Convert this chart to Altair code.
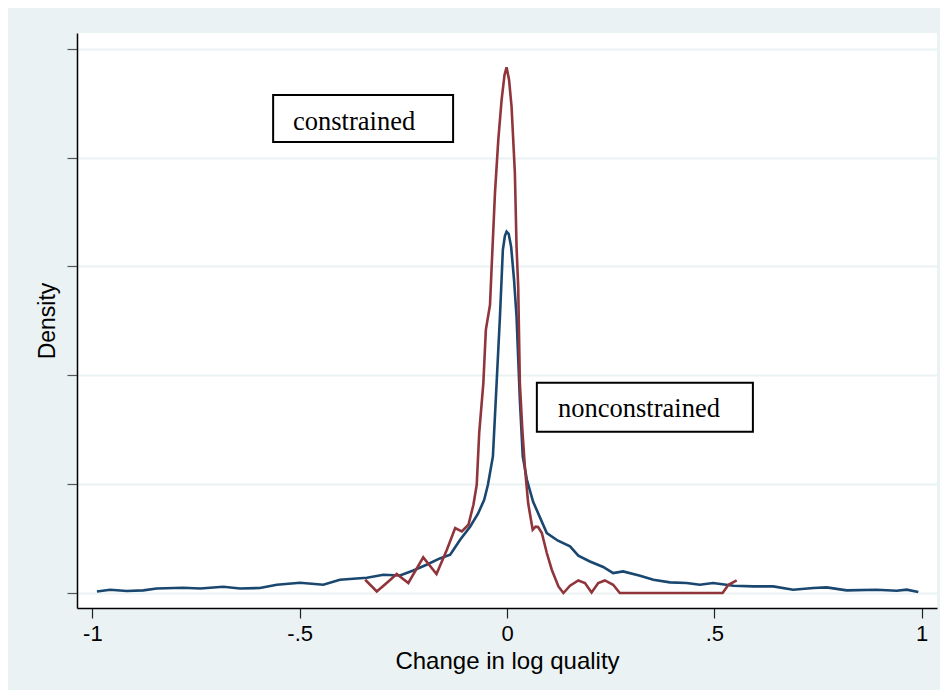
import altair as alt
import pandas as pd

# ---- data (x: change in log quality, y: density) ----
blue_x = [-0.989, -0.957, -0.917, -0.877, -0.845, -0.781, -0.740, -0.684, -0.644, -0.596,
          -0.555, -0.499, -0.443, -0.403, -0.371, -0.338, -0.298, -0.258, -0.226, -0.194,
          -0.162, -0.137, -0.113, -0.089, -0.070, -0.055, -0.046, -0.034, -0.025, -0.017,
          -0.010, -0.005, -0.001, 0.004, 0.010, 0.017, 0.023, 0.031, 0.038, 0.048,
          0.063, 0.096, 0.123, 0.152, 0.172, 0.200, 0.232, 0.256, 0.280, 0.321,
          0.353, 0.393, 0.433, 0.465, 0.497, 0.546, 0.594, 0.642, 0.690, 0.739,
          0.771, 0.819, 0.891, 0.940, 0.964, 0.992]
blue_y = [0.029, 0.061, 0.037, 0.048, 0.084, 0.097, 0.084, 0.116, 0.084, 0.092,
          0.152, 0.189, 0.152, 0.244, 0.263, 0.281, 0.336, 0.323, 0.415, 0.520,
          0.635, 0.703, 0.979, 1.218, 1.456, 1.713, 1.989, 2.509, 3.862, 5.080,
          6.305, 6.562, 6.641, 6.599, 6.360, 5.754, 5.080, 3.550, 2.509, 2.081,
          1.677, 1.102, 0.961, 0.856, 0.685, 0.580, 0.478, 0.367, 0.397, 0.318,
          0.244, 0.195, 0.184, 0.152, 0.184, 0.134, 0.121, 0.121, 0.061, 0.092,
          0.103, 0.048, 0.061, 0.042, 0.061, 0.018]

red_x = [-0.342, -0.314, -0.286, -0.266, -0.238, -0.202, -0.170, -0.145, -0.125, -0.109,
         -0.093, -0.081, -0.073, -0.067, -0.057, -0.051, -0.041, -0.037, -0.029, -0.021,
         -0.013, -0.006, -0.001, 0.005, 0.011, 0.019, 0.023, 0.027, 0.031, 0.037,
         0.043, 0.051, 0.055, 0.062, 0.069, 0.075, 0.084, 0.096, 0.108, 0.124,
         0.136, 0.152, 0.172, 0.188, 0.204, 0.220, 0.236, 0.256, 0.272, 0.520,
         0.534, 0.554]
red_y = [0.244, 0.029, 0.213, 0.349, 0.184, 0.654, 0.349, 0.795, 1.194, 1.131,
         1.254, 1.622, 1.989, 2.944, 3.862, 4.836, 5.295, 5.993, 7.352, 8.325,
         9.060, 9.519, 9.660, 9.427, 8.937, 7.719, 6.366, 5.631, 3.862, 2.999,
         2.325, 1.653, 1.469, 1.163, 1.218, 1.212, 1.102, 0.735, 0.428, 0.121,
         0.0, 0.134, 0.231, 0.184, 0.011, 0.184, 0.231, 0.152, 0.0, 0.0,
         0.152, 0.231]

x_tick_values = [-1, -0.5, 0, 0.5, 1]
x_tick_labels = ["-1", "-.5", "0", ".5", "1"]
y_tick_values = [0, 2, 4, 6, 8, 10]

# annotation boxes (data coordinates)
box_labels = ["constrained", "nonconstrained"]
box_x0 = [-0.564, 0.072]
box_x1 = [-0.130, 0.593]
box_y0 = [8.288, 2.962]
box_y1 = [9.152, 3.862]
label_x = [-0.516, 0.123]
label_y = [8.506, 3.243]

BG = "#eaf2f3"
BLUE = "#1a476f"
RED = "#90353b"

df_blue = pd.DataFrame({"x": blue_x, "y": blue_y})
df_red = pd.DataFrame({"x": red_x, "y": red_y})
df_box = pd.DataFrame({"label": box_labels, "x0": box_x0, "x1": box_x1,
                       "y0": box_y0, "y1": box_y1, "lx": label_x, "ly": label_y})

xscale = alt.Scale(domain=[-1.037, 1.037], nice=False, zero=False)
yscale = alt.Scale(domain=[-0.2755, 10.29], nice=False, zero=False)

label_expr = " : ".join(
    f"datum.value == {v} ? '{l}'" for v, l in zip(x_tick_values[:-1], x_tick_labels[:-1])
) + f" : '{x_tick_labels[-1]}'"

x_axis = alt.Axis(values=x_tick_values, labelExpr=label_expr, grid=False,
                  tickSize=10, tickColor="#222222", tickWidth=1.2,
                  domainColor="black", domainWidth=1.5,
                  labelFont="Liberation Sans", labelFontSize=22, labelColor="black",
                  labelPadding=5, labelFlush=False,
                  title="Change in log quality", titleFont="Liberation Sans",
                  titleFontSize=24, titleFontWeight="normal", titleColor="black",
                  titlePadding=5)
y_axis = alt.Axis(values=y_tick_values, labels=False, grid=True,
                  gridColor=BG, gridWidth=1.8,
                  tickSize=10, tickColor="#555555", tickWidth=1.2,
                  domainColor="black", domainWidth=1.5,
                  title="Density", titleFont="Liberation Sans",
                  titleFontSize=23, titleFontWeight="normal", titleColor="black",
                  titlePadding=7)

blue = alt.Chart(df_blue).mark_line(color=BLUE, strokeWidth=2.6).encode(
    x=alt.X("x:Q", scale=xscale, axis=x_axis),
    y=alt.Y("y:Q", scale=yscale, axis=y_axis),
)
red = alt.Chart(df_red).mark_line(color=RED, strokeWidth=2.6).encode(
    x=alt.X("x:Q", scale=xscale, axis=x_axis),
    y=alt.Y("y:Q", scale=yscale, axis=y_axis),
)
boxes = alt.Chart(df_box).mark_rect(fill="white", stroke="black", strokeWidth=2).encode(
    x=alt.X("x0:Q", scale=xscale, axis=x_axis), x2="x1:Q",
    y=alt.Y("y0:Q", scale=yscale, axis=y_axis), y2="y1:Q",
)
labels = alt.Chart(df_box).mark_text(align="left", baseline="alphabetic",
                                     font="Liberation Serif", fontSize=26.5,
                                     color="black").encode(
    x=alt.X("lx:Q", scale=xscale, axis=x_axis),
    y=alt.Y("ly:Q", scale=yscale, axis=y_axis),
    text="label:N",
)

chart = alt.layer(blue, red, boxes, labels).properties(
    width=860, height=575,
    autosize=alt.AutoSizeParams(type="none"),
    padding={"left": 69, "top": 25, "right": 3, "bottom": 82},
    background=BG,
).configure_view(fill="white", stroke=None)

chart.save("out.html", embed_options={"renderer": "svg", "actions": False})
